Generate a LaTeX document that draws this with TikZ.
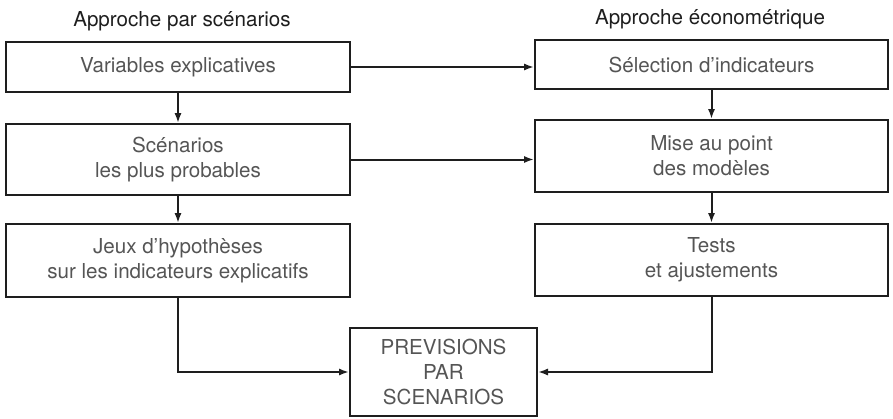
\documentclass[tikz,border=0pt]{standalone}
\usepackage{fontspec}
\setmainfont{TeX Gyre Heros}
\usetikzlibrary{arrows.meta}
\definecolor{boxtext}{RGB}{85,85,85}
\definecolor{ink}{RGB}{30,30,30}
\tikzset{
  box/.style={draw=ink, line width=1pt, align=center, text=boxtext,
    font=\fontsize{10.3}{12.5}\selectfont, inner sep=0pt},
  lbox/.style={box, minimum width=172pt},
  rbox/.style={box, minimum width=176.5pt},
  title/.style={text=ink, font=\fontsize{10.3}{12.5}\selectfont, inner sep=0pt},
  conn/.style={draw=ink, line width=1pt, -{Latex[length=5pt,width=3.6pt]}}
}
\begin{document}
\begin{tikzpicture}[x=0.5pt,y=-0.5pt]
\useasboundingbox (0,0) rectangle (893,418);
\node[title] (tl) at (182,21) {Approche par scénarios};
\node[title] (tr) at (710,19) {Approche économétrique};
\node[lbox, minimum height=25pt] (L1) at (178,67) {Variables explicatives};
\node[lbox, minimum height=35.5pt] (L2) at (178,159.5) {Scénarios\\les plus probables};
\node[lbox, minimum height=36.5pt] (L3) at (178,260.5) {Jeux d'hypothèses\\sur les indicateurs explicatifs};
\node[rbox, minimum height=24.5pt] (R1) at (711.5,64.5) {Sélection d'indicateurs};
\node[rbox, minimum height=36pt] (R2) at (711.5,156) {Mise au point\\des modèles};
\node[rbox, minimum height=36pt] (R3) at (711.5,260) {Tests\\et ajustements};
\node[box, minimum width=93.5pt, minimum height=44pt] (P) at (443.5,372) {PREVISIONS\\PAR\\SCENARIOS};
\draw[conn] (L1.east) -- (L1.east -| R1.west);
\draw[conn] (L2.east) -- (L2.east -| R2.west);
\draw[conn] (L1.south) -- (L2.north);
\draw[conn] (L2.south) -- (L3.north);
\draw[conn] (R1.south) -- (R2.north);
\draw[conn] (R2.south) -- (R3.north);
\draw[conn] (L3.south) |- (P.west);
\draw[conn] (R3.south) |- (P.east);
\end{tikzpicture}
\end{document}
